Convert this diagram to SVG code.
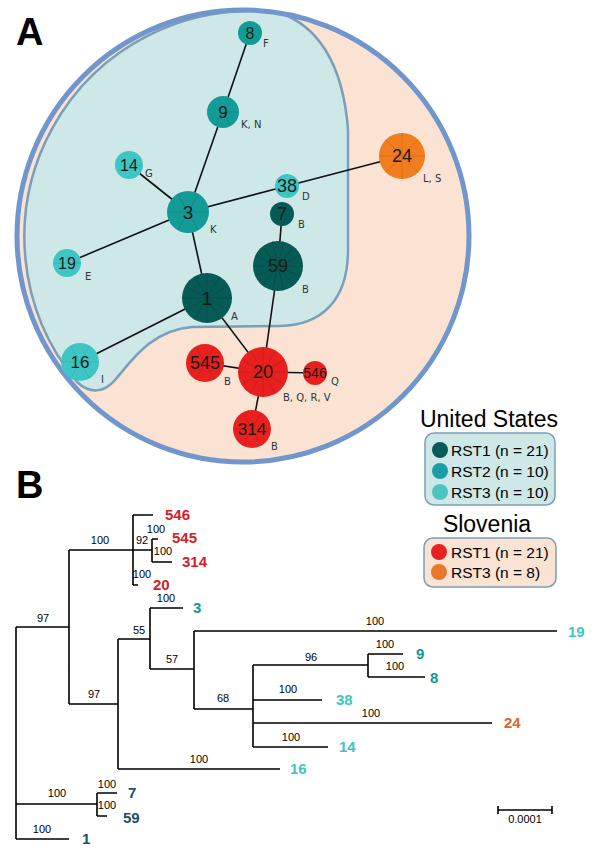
<svg xmlns="http://www.w3.org/2000/svg" width="600" height="862" viewBox="0 0 600 862">
<style>
.panel{font-family:"Liberation Sans",Arial,sans-serif;font-weight:bold;font-size:38px;fill:#000}
.edge{stroke:#111;stroke-width:1.6;fill:none}
.rst1{fill:#075b56}
.rst2{fill:#139b97}
.rst3{fill:#3ec6c4}
.slo1{fill:#e8201e}
.slo3{fill:#f07d1e}
.sl{fill:none;stroke-width:0.8;stroke-opacity:0.45}
.num{font-family:"Liberation Sans",Arial,sans-serif;fill:#1a1a1a;text-anchor:middle}
.lab{font-family:"DejaVu Sans",Verdana,sans-serif;font-size:10px;fill:#333}
.tree{stroke:#000;stroke-width:1.6;fill:none}
.sup{font-family:"Liberation Sans",Arial,sans-serif;font-size:11px;fill:#000;text-anchor:middle}
.tax{font-family:"Liberation Sans",Arial,sans-serif;font-size:15px;font-weight:bold}
.cR{fill:#d42027}.cT{fill:#18978f}.cL{fill:#40c4c4}.cD{fill:#1d5264}.cO{fill:#e0662a}
.leg{font-family:"Liberation Sans",Arial,sans-serif;font-size:15.5px;fill:#000}
.legh{font-family:"Liberation Sans",Arial,sans-serif;font-size:23px;fill:#000;text-anchor:middle}
</style>

<text class="panel" x="16" y="45">A</text>
<text class="panel" x="16" y="498">B</text>

<!-- background regions -->
<g id="regions">
  <circle cx="243" cy="236" r="226" fill="#fae3d2"/>
  <path d="M280,13 C315,25 343,60 348,130 L348,250 C348,300 322,325 280,326 L192,327 C152,330 132,360 115,380 C104,393 90,394 77,382 A226 226 0 0 1 280,13 Z" fill="#cde8e6" stroke="#7b9fb8" stroke-width="2.5"/>
  <circle cx="243" cy="236" r="226" fill="none" stroke="#7096cc" stroke-width="5"/>
</g>

<g id="connectors">
  <line class="edge" x1="250" y1="33" x2="223" y2="112"/>
  <line class="edge" x1="223" y1="112" x2="188" y2="212"/>
  <line class="edge" x1="129" y1="165" x2="188" y2="212"/>
  <line class="edge" x1="188" y1="212" x2="287" y2="186"/>
  <line class="edge" x1="287" y1="186" x2="402" y2="156"/>
  <line class="edge" x1="188" y1="212" x2="67" y2="263"/>
  <line class="edge" x1="188" y1="212" x2="207" y2="298"/>
  <line class="edge" x1="282" y1="214" x2="278" y2="266"/>
  <line class="edge" x1="278" y1="266" x2="263" y2="372"/>
  <line class="edge" x1="207" y1="298" x2="263" y2="372"/>
  <line class="edge" x1="207" y1="298" x2="80" y2="362"/>
  <line class="edge" x1="205" y1="363" x2="263" y2="372"/>
  <line class="edge" x1="263" y1="372" x2="315" y2="373"/>
  <line class="edge" x1="263" y1="372" x2="252" y2="429"/>
</g>

<g id="node-8" transform="translate(250,33)"><circle r="12" class="rst2"/><text class="num" font-size="16" y="5.6">8</text></g>
<text class="lab" x="263" y="47">F</text>

<g id="node-9" transform="translate(223,112)"><circle r="16" class="rst2"/><path class="sl" stroke="#0a6f6a" d="M0,0H16M0,0L-8,13.9M0,0L8,13.9"/><text class="num" font-size="17" y="6">9</text></g>
<text class="lab" x="241" y="128">K, N</text>

<g id="node-14" transform="translate(129,165)"><circle r="14" class="rst3"/><path class="sl" stroke="#1f9e9c" d="M0,0H14"/><text class="num" font-size="16" y="5.6">14</text></g>
<text class="lab" x="145" y="177">G</text>

<g id="node-3" transform="translate(188,212)"><circle r="21" class="rst2"/><path class="sl" stroke="#0a6f6a" d="M-21,0H21M-10.5,-18.2L10.5,18.2M10.5,-18.2L-10.5,18.2"/><text class="num" font-size="19" y="6.7">3</text></g>
<text class="lab" x="210" y="233">K</text>

<g id="node-38" transform="translate(287,186)"><circle r="12" class="rst3"/><text class="num" font-size="18" y="6.3">38</text></g>
<text class="lab" x="302" y="200">D</text>

<g id="node-7" transform="translate(282,214)"><circle r="12" class="rst1"/><text class="num" font-size="18" y="6.3">7</text></g>
<text class="lab" x="298" y="228">B</text>

<g id="node-59" transform="translate(278,266)"><circle r="25" class="rst1"/><path class="sl" stroke="#033d39" d="M-25,0H25M-22.5,-10.8L22.5,10.8M-15.6,-19.5L15.6,19.5M-5.6,-24.4L5.6,24.4M5.6,-24.4L-5.6,24.4M15.6,-19.5L-15.6,19.5M22.5,-10.8L-22.5,10.8"/><text class="num" font-size="18" y="6.3">59</text></g>
<text class="lab" x="302" y="293">B</text>

<g id="node-1" transform="translate(207,298)"><circle r="25" class="rst1"/><path class="sl" stroke="#033d39" d="M-25,0H25M-21.7,-12.5L21.7,12.5M-12.5,-21.7L12.5,21.7M0,-25V25M12.5,-21.7L-12.5,21.7M21.7,-12.5L-21.7,12.5"/><text class="num" font-size="19" y="6.7">1</text></g>
<text class="lab" x="231" y="320">A</text>

<g id="node-19" transform="translate(67,263)"><circle r="14" class="rst3"/><path class="sl" stroke="#1f9e9c" d="M-14,0H14"/><text class="num" font-size="16" y="5.6">19</text></g>
<text class="lab" x="85" y="280">E</text>

<g id="node-16" transform="translate(80,362)"><circle r="19" class="rst3"/><path class="sl" stroke="#1f9e9c" d="M-19,0H19M-9.5,-16.5L9.5,16.5M9.5,-16.5L-9.5,16.5"/><text class="num" font-size="17" y="6">16</text></g>
<text class="lab" x="101" y="383">I</text>

<g id="node-545" transform="translate(205,363)"><circle r="19" class="slo1"/><path class="sl" stroke="#b01010" d="M-19,0H19M-9.5,-16.5L9.5,16.5M9.5,-16.5L-9.5,16.5"/><text class="num" font-size="18" y="6.3">545</text></g>
<text class="lab" x="224" y="385">B</text>

<g id="node-20" transform="translate(263,372)"><circle r="25" class="slo1"/><path class="sl" stroke="#b01010" d="M-25,0H25M-21.7,-12.5L21.7,12.5M-12.5,-21.7L12.5,21.7M0,-25V25M12.5,-21.7L-12.5,21.7M21.7,-12.5L-21.7,12.5"/><text class="num" font-size="18" y="6.3">20</text></g>
<text class="lab" x="283" y="401">B, Q, R, V</text>

<g id="node-546" transform="translate(315,373)"><circle r="12" class="slo1"/><text class="num" font-size="14" y="4.9">546</text></g>
<text class="lab" x="331" y="385">Q</text>

<g id="node-314" transform="translate(252,429)"><circle r="19" class="slo1"/><path class="sl" stroke="#b01010" d="M-19,0H19M-9.5,-16.5L9.5,16.5M9.5,-16.5L-9.5,16.5"/><text class="num" font-size="17" y="6">314</text></g>
<text class="lab" x="271" y="450">B</text>

<g id="node-24" transform="translate(402,156)"><circle r="23" class="slo3"/><path class="sl" stroke="#c0580c" d="M-23,0H23M0,-23V23M-16.3,-16.3L16.3,16.3M16.3,-16.3L-16.3,16.3"/><text class="num" font-size="18" y="6.3">24</text></g>
<text class="lab" x="423" y="182">L, S</text>

<!-- legend -->
<g id="legend-us">
  <text class="legh" x="489" y="427">United States</text>
  <rect x="425" y="433" width="130" height="72" rx="9" fill="#cde8e6" stroke="#7b9fb8" stroke-width="1.5"/>
  <circle cx="440" cy="450" r="8" fill="#075b56"/>
  <circle cx="440" cy="471" r="8" fill="#1a9ea8"/>
  <circle cx="440" cy="492" r="8" fill="#4cc4c4"/>
  <text class="leg" x="451" y="456">RST1 (n = 21)</text>
  <text class="leg" x="451" y="477">RST2 (n = 10)</text>
  <text class="leg" x="451" y="498">RST3 (n = 10)</text>
</g>
<g id="legend-si">
  <text class="legh" x="487" y="532">Slovenia</text>
  <rect x="424" y="538" width="132" height="49" rx="9" fill="#fae3d2" stroke="#7b9fb8" stroke-width="1.5"/>
  <circle cx="439" cy="552" r="8" fill="#e82020"/>
  <circle cx="439" cy="572" r="8" fill="#e8772a"/>
  <text class="leg" x="451" y="558">RST1 (n = 21)</text>
  <text class="leg" x="451" y="578">RST3 (n = 8)</text>
</g>

<!-- tree -->
<g id="tree">
  <path class="tree" d="M16,627V839M16,627H69M69,550V704M69,550H133M133,515V585M133,515H153M133,550H152M152,539V562M152,539H158M152,562H172M133,585H138M69,704H118M118,639V769M118,769H280M118,639H150M150,608V669M150,608H183M150,669H194M194,631V709M194,631H557M194,709H253M253,665V747M253,665H368M368,654V677M368,654H403M368,677H425M253,700H322M253,723H492M253,747H328M16,804H97M97,793V816M97,793H117M97,816H107M16,839H69"/>
  <text class="sup" x="43" y="622">97</text>
  <text class="sup" x="100" y="544">100</text>
  <text class="sup" x="156" y="533">100</text>
  <text class="sup" x="142" y="544">92</text>
  <text class="sup" x="163" y="555">100</text>
  <text class="sup" x="142" y="578">100</text>
  <text class="sup" x="94" y="698">97</text>
  <text class="sup" x="139" y="634">55</text>
  <text class="sup" x="166" y="602">100</text>
  <text class="sup" x="172" y="663">57</text>
  <text class="sup" x="375" y="625">100</text>
  <text class="sup" x="223" y="702">68</text>
  <text class="sup" x="311" y="661">96</text>
  <text class="sup" x="385" y="648">100</text>
  <text class="sup" x="395" y="670">100</text>
  <text class="sup" x="288" y="693">100</text>
  <text class="sup" x="371" y="717">100</text>
  <text class="sup" x="291" y="741">100</text>
  <text class="sup" x="199" y="763">100</text>
  <text class="sup" x="57" y="797">100</text>
  <text class="sup" x="107" y="788">100</text>
  <text class="sup" x="107" y="809">100</text>
  <text class="sup" x="42" y="833">100</text>

  <text class="tax cR" x="165" y="520">546</text>
  <text class="tax cR" x="172" y="543">545</text>
  <text class="tax cR" x="182" y="567">314</text>
  <text class="tax cR" x="153" y="590">20</text>
  <text class="tax cT" x="193" y="613">3</text>
  <text class="tax cL" x="568" y="637">19</text>
  <text class="tax cT" x="416" y="659">9</text>
  <text class="tax cT" x="430" y="683">8</text>
  <text class="tax cL" x="336" y="705">38</text>
  <text class="tax cO" x="504" y="728">24</text>
  <text class="tax cL" x="339" y="752">14</text>
  <text class="tax cL" x="290" y="774">16</text>
  <text class="tax cD" x="128" y="798">7</text>
  <text class="tax cD" x="123" y="823">59</text>
  <text class="tax cD" x="82" y="844">1</text>

  <path class="tree" stroke-width="1.4" d="M498,810H552M498,806V814M552,806V814"/>
  <text class="sup" font-size="10" x="525" y="823">0.0001</text>
</g>
</svg>
